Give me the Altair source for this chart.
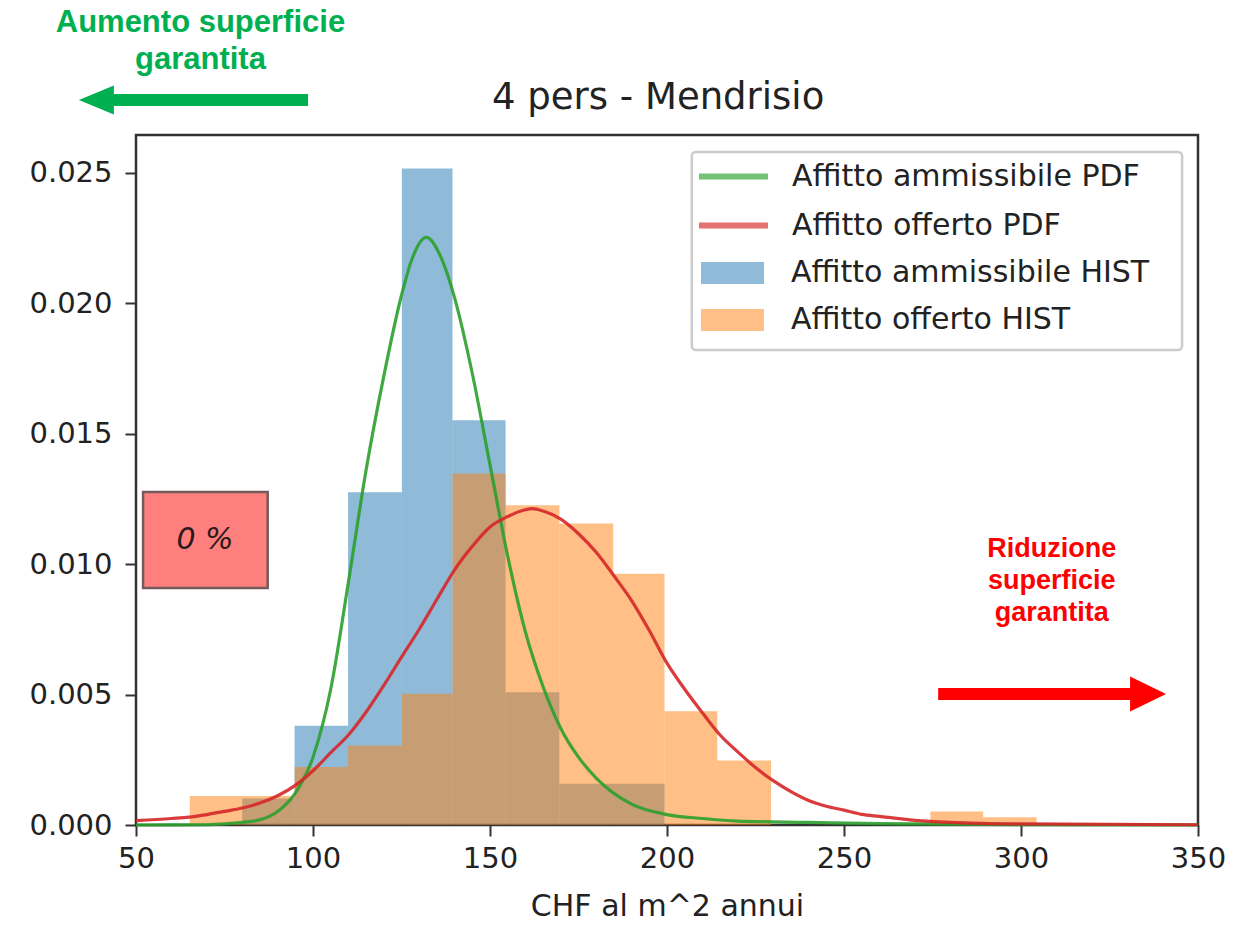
import altair as alt
import pandas as pd

# ---------------- data ----------------
bin_edges = [65.2, 80.0, 94.8, 109.9, 125.1, 139.4, 154.4, 169.6, 184.8,
             199.3, 214.2, 229.4, 244.5, 259.5, 274.4, 289.3, 304.4]
offerto_hist = [0.00111, 0.00111, 0.00222, 0.00305, 0.00503, 0.01347, 0.01225,
                0.01155, 0.00963, 0.00436, 0.00247, 0.0, 0.0, 0.0, 0.00052, 0.00030]
ammissibile_first_bin = 1
ammissibile_hist = [0.00102, 0.00380, 0.01275, 0.02516, 0.01551, 0.00509, 0.00158, 0.00158]

pdf_amm_x = [50, 60, 70, 75, 80, 85, 90, 95, 100, 105, 110, 115, 120, 125, 128,
             132, 136, 140, 145, 150, 155, 160, 165, 170, 175, 180, 190, 200,
             210, 220, 240, 260, 300, 350]
pdf_amm_y = [0.0, 0.000003, 0.00001, 0.00004, 0.0001, 0.0002, 0.00052, 0.00122,
             0.0026, 0.0052, 0.0093, 0.0136, 0.0172, 0.0203, 0.0217, 0.02252,
             0.0218, 0.0202, 0.0173, 0.0138, 0.0103, 0.0074, 0.0053, 0.0037,
             0.0026, 0.0018, 0.0008, 0.0004, 0.00025, 0.00015, 0.0001, 0.00005,
             0.00001, 0.0]

pdf_off_x = [50, 60, 65, 70, 75, 80, 85, 90, 95, 100, 105, 110, 115, 120, 125,
             130, 135, 140, 145, 150, 155, 160, 162, 165, 170, 175, 180, 185,
             190, 195, 200, 205, 210, 215, 220, 225, 230, 235, 240, 245, 250,
             255, 260, 270, 280, 300, 350]
pdf_off_y = [0.00017, 0.00025, 0.0003, 0.0004, 0.00052, 0.00065, 0.00084, 0.00112,
             0.00152, 0.00208, 0.00277, 0.00345, 0.00433, 0.00535, 0.00643,
             0.0075, 0.00865, 0.00978, 0.01068, 0.01142, 0.01182, 0.01208,
             0.01212, 0.01203, 0.01172, 0.01116, 0.01045, 0.00955, 0.0086,
             0.00745, 0.0062, 0.0052, 0.0043, 0.00345, 0.0028, 0.0022, 0.0017,
             0.00128, 0.00094, 0.00072, 0.00057, 0.00041, 0.00033, 0.00018,
             0.0001, 0.00004, 0.00001]

pdf_names = ["Affitto ammissibile PDF", "Affitto offerto PDF"]
hist_names = ["Affitto ammissibile HIST", "Affitto offerto HIST"]
pdf_colors = ["#2ca02c", "#d62728"]
hist_colors = ["#1f77b4", "#ff7f0e"]

x_ticks = [50, 100, 150, 200, 250, 300, 350]
y_ticks = [0.000, 0.005, 0.010, 0.015, 0.020, 0.025]
x_domain = [50, 350]
y_domain = [0, 0.02644]
title_text = ["4 pers - Mendrisio"]
title_pos = [197.5, 0.027426]
x_title = "CHF al m^2 annui"

# annotations (data coordinates)
box_label = ["0 %"]
box_x = [52.0, 87.2]
box_y = [0.00908, 0.01276]
box_text_pos = [69.5, 0.01092]

legend_frame_x = [207.0, 345.5]
legend_frame_y = [0.01820, 0.02579]

green_text = ["Aumento superficie", "garantita"]
green_text_x = [68.2, 68.2]
green_text_y = [0.030713, 0.02931]
green_arrow_x = [43.2, 98.6]
green_arrow_y = [0.02778]
green_head_x = [38.8]

red_text = ["Riduzione", "superficie", "garantita"]
red_text_x = [308.7, 308.7, 308.7]
red_text_y = [0.01058, 0.00935, 0.00812]
red_arrow_x = [276.6, 331.4]
red_arrow_y = [0.00502]
red_head_x = [335.9]

# ---------------- tables ----------------
off_df = pd.DataFrame({
    "x0": bin_edges[:-1], "x1": bin_edges[1:],
    "y0": [0.0] * len(offerto_hist), "y1": offerto_hist,
    "serie": hist_names[1],
})
n_a = len(ammissibile_hist)
amm_df = pd.DataFrame({
    "x0": bin_edges[ammissibile_first_bin:ammissibile_first_bin + n_a],
    "x1": bin_edges[ammissibile_first_bin + 1:ammissibile_first_bin + n_a + 1],
    "y0": [0.0] * n_a, "y1": ammissibile_hist,
    "serie": hist_names[0],
})
pdf_df = pd.concat([
    pd.DataFrame({"x": pdf_amm_x, "y": pdf_amm_y, "serie": pdf_names[0], "k": 0}),
    pd.DataFrame({"x": pdf_off_x, "y": pdf_off_y, "serie": pdf_names[1], "k": 1}),
], ignore_index=True)

xs = alt.Scale(domain=x_domain, nice=False, zero=False)
ys = alt.Scale(domain=y_domain, nice=False, zero=False)
xax = alt.Axis(values=x_ticks, format="d", labelPadding=8, titlePadding=18,
               labelFlush=False)
yax = alt.Axis(values=y_ticks, format=".3f", labelPadding=13)


def X(f):
    return alt.X(f, type="quantitative", scale=xs, axis=xax, title=x_title)


def Y(f):
    return alt.Y(f, type="quantitative", scale=ys, axis=yax, title=None)


fill_legend = alt.Legend(
    title=None, orient="none", legendX=565, legendY=114.5, direction="vertical",
    labelFont="DejaVu Sans", labelFontSize=30, labelColor="#222222", labelLimit=600,
    symbolType="M-1,-0.35L1,-0.35L1,0.35L-1,0.35Z", symbolSize=3969,
    symbolStrokeWidth=0, symbolOpacity=0.5, labelOffset=27, rowPadding=0,
    clipHeight=47, padding=0, zindex=1,
)
stroke_legend = alt.Legend(
    title=None, orient="none", legendX=560, legendY=17, direction="vertical",
    labelFont="DejaVu Sans", labelFontSize=30, labelColor="#222222", labelLimit=600,
    symbolType="stroke", symbolSize=4761, symbolStrokeWidth=6,
    symbolOpacity=0.65, labelOffset=21, rowPadding=0, clipHeight=49,
    padding=0, zindex=1,
)
fill_enc = alt.Fill("serie:N", scale=alt.Scale(domain=hist_names, range=hist_colors),
                    legend=fill_legend)

bars_amm = alt.Chart(amm_df).mark_rect(opacity=0.5).encode(
    x=X("x0"), x2="x1", y=Y("y0"), y2="y1", fill=fill_enc)
bars_off = alt.Chart(off_df).mark_rect(opacity=0.5).encode(
    x=X("x0"), x2="x1", y=Y("y0"), y2="y1", fill=fill_enc)

lines = alt.Chart(pdf_df).mark_line(strokeWidth=3.2, opacity=0.9,
                                    interpolate="monotone").encode(
    x=X("x"), y=Y("y"),
    stroke=alt.Stroke("serie:N", scale=alt.Scale(domain=pdf_names, range=pdf_colors),
                      legend=stroke_legend),
    order="x:Q",
)

# legend frame
frame_df = pd.DataFrame({"x0": [legend_frame_x[0]], "x1": [legend_frame_x[1]],
                         "y0": [legend_frame_y[0]], "y1": [legend_frame_y[1]]})
frame = alt.Chart(frame_df).mark_rect(fill="white", fillOpacity=0.8,
                                      stroke="#cccccc", strokeWidth=2.5,
                                      cornerRadius=4).encode(
    x=X("x0"), x2="x1", y=Y("y0"), y2="y1")

# "0 %" box
box_df = pd.DataFrame({"x0": [box_x[0]], "x1": [box_x[1]],
                       "y0": [box_y[0]], "y1": [box_y[1]]})
box = alt.Chart(box_df).mark_rect(fill="#ff7f7f", stroke="#775a5a",
                                  strokeWidth=2.5).encode(
    x=X("x0"), x2="x1", y=Y("y0"), y2="y1")
box_txt_df = pd.DataFrame({"x": [box_text_pos[0]], "y": [box_text_pos[1]],
                           "t": box_label})
box_txt = alt.Chart(box_txt_df).mark_text(font="DejaVu Sans", fontStyle="italic",
                                          fontSize=30, color="#2a1a1a",
                                          align="center", baseline="middle").encode(
    x=X("x"), y=Y("y"), text="t:N")

# chart title (as text so it sits just above the plot frame)
title_df = pd.DataFrame({"x": [title_pos[0]], "y": [title_pos[1]], "t": title_text})
title = alt.Chart(title_df).mark_text(font="DejaVu Sans", fontSize=37,
                                      color="#222222", align="center",
                                      baseline="alphabetic").encode(
    x=X("x"), y=Y("y"), text="t:N")

# green annotation
g_txt_df = pd.DataFrame({"x": green_text_x, "y": green_text_y, "t": green_text})
g_txt = alt.Chart(g_txt_df).mark_text(font="Liberation Sans", fontWeight="bold",
                                      fontSize=31, color="#00b050", align="center",
                                      baseline="middle").encode(
    x=X("x"), y=Y("y"), text="t:N")
g_shaft_df = pd.DataFrame({"x0": [green_arrow_x[0]], "x1": [green_arrow_x[1]],
                           "y": green_arrow_y})
g_shaft = alt.Chart(g_shaft_df).mark_rule(color="#00b050", strokeWidth=12,
                                          strokeCap="butt").encode(
    x=X("x0"), x2="x1", y=Y("y"))
g_head_df = pd.DataFrame({"x": green_head_x, "y": green_arrow_y})
g_head = alt.Chart(g_head_df).mark_point(shape="M-1,0L1,-0.83L1,0.83Z", size=1225,
                                         filled=True, opacity=1, color="#00b050",
                                         strokeWidth=0).encode(
    x=X("x"), y=Y("y"))

# red annotation
r_txt_df = pd.DataFrame({"x": red_text_x, "y": red_text_y, "t": red_text})
r_txt = alt.Chart(r_txt_df).mark_text(font="Liberation Sans", fontWeight="bold",
                                      fontSize=27, color="#ff0000", align="center",
                                      baseline="middle").encode(
    x=X("x"), y=Y("y"), text="t:N")
r_shaft_df = pd.DataFrame({"x0": [red_arrow_x[0]], "x1": [red_arrow_x[1]],
                           "y": red_arrow_y})
r_shaft = alt.Chart(r_shaft_df).mark_rule(color="#ff0000", strokeWidth=12,
                                          strokeCap="butt").encode(
    x=X("x0"), x2="x1", y=Y("y"))
r_head_df = pd.DataFrame({"x": red_head_x, "y": red_arrow_y})
r_head = alt.Chart(r_head_df).mark_point(shape="M1,0L-1,-0.97L-1,0.97Z", size=1296,
                                         filled=True, opacity=1, color="#ff0000",
                                         strokeWidth=0).encode(
    x=X("x"), y=Y("y"))

chart = alt.layer(
    bars_amm, bars_off, lines, frame, box, box_txt, title,
    g_txt, g_shaft, g_head, r_txt, r_shaft, r_head,
).properties(
    width=1062, height=690,
    autosize=alt.AutoSizeParams(type="none"),
    padding={"left": 128, "top": 127, "right": 35, "bottom": 96},
    background="white",
).configure_view(
    stroke="#333333", strokeWidth=2.5,
).configure_axis(
    domain=False, grid=False, tickColor="#333333", tickWidth=2, tickSize=11,
    labelFont="DejaVu Sans", labelFontSize=29, labelColor="#222222",
    titleFont="DejaVu Sans", titleFontSize=30, titleColor="#222222",
    titleFontWeight="normal",
)

chart.save("out.html", embed_options={"renderer": "svg", "actions": False})
